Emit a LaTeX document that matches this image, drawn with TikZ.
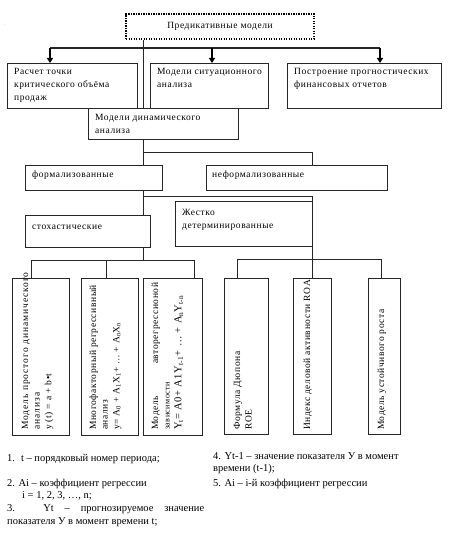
\documentclass[tikz,border=0pt]{standalone}
\usepackage{fontspec}
\setmainfont{Liberation Serif}
\newfontfamily\boxfont[LetterSpace=6]{Liberation Serif}
\newfontfamily\boxfontw[LetterSpace=10]{Liberation Serif}
\usetikzlibrary{arrows.meta}
\newcommand{\sbs}[1]{\textsubscript{#1}}
\newcommand{\lns}[1]{\begin{tabular}[t]{@{}l@{}}#1\end{tabular}}
\tikzset{
  frame/.style={draw=black!85, line width=0.9pt, inner sep=0pt, anchor=north west},
  topbox/.style={draw=black, line width=2pt, dash pattern=on 1.4pt off 1.1pt, inner sep=0pt, anchor=north west, font=\boxfont\fontsize{9.5}{12}\selectfont},
  btext/.style={anchor=base west, inner sep=0pt, font=\boxfont\fontsize{9.5}{13}\selectfont},
  vtext/.style={rotate=90, anchor=base west, inner sep=0pt, font=\boxfont\fontsize{9.5}{11.7}\selectfont},
  conn/.style={draw=black!85, line width=0.9pt},
  arr/.style={draw=black, line width=1.7pt, -{Triangle[length=5pt,width=6pt]}},
  note/.style={anchor=base west, inner sep=0pt, font=\fontsize{10.5}{12}\selectfont},
}
\begin{document}
\begin{tikzpicture}[x=1pt,y=-1pt]
\useasboundingbox[fill=white] (0,0) rectangle (448,540);
\node[font=\tiny, text=black!35] (dot) at (5,25) {.};
% boxes
\node[topbox, minimum width=188pt, minimum height=25pt] (tp) at (125,13) {Предикативные модели};
\node[frame, minimum width=130pt, minimum height=45pt] (r1) at (7,63) {};
\node[frame, minimum width=118pt, minimum height=45pt] (r2) at (150,63) {};
\node[frame, minimum width=154pt, minimum height=45pt] (r3) at (287,63) {};
\node[frame, fill=white, minimum width=150pt, minimum height=31pt] (dyn) at (88,108) {};
\node[frame, minimum width=137pt, minimum height=25pt] (frm) at (25,165) {};
\node[frame, minimum width=181pt, minimum height=25pt] (inf) at (206,165) {};
\node[frame, minimum width=125pt, minimum height=32pt] (sto) at (25,215) {};
\node[frame, minimum width=137pt, minimum height=45pt] (det) at (175,201) {};
\node[frame, minimum width=57pt, minimum height=157pt] (va) at (12,278) {};
\node[frame, minimum width=57pt, minimum height=157pt] (vb) at (81,278) {};
\node[frame, minimum width=59pt, minimum height=157pt] (vc) at (143,278) {};
\node[frame, minimum width=44pt, minimum height=156pt] (vd) at (224,278) {};
\node[frame, minimum width=38pt, minimum height=156pt] (ve) at (293,278) {};
\node[frame, minimum width=32pt, minimum height=156pt] (vf) at (368,278) {};
% texts
\node[btext] (t1) at (14,75) {\lns{Расчет точки\\критического объёма\\продаж}};
\node[btext] (t2) at (157,75) {\lns{Модели ситуационного\\анализа}};
\node[btext] (t3) at (294,75) {\lns{Построение прогностических\\финансовых отчетов}};
\node[btext] (tdyn) at (95,121) {\lns{Модели динамического\\анализа}};
\node[btext] (tfrm) at (32,178) {формализованные};
\node[btext] (tinf) at (212,178) {неформализованные};
\node[btext] (tsto) at (32,229) {стохастические};
\node[btext] (tdet) at (182,215) {\lns{Жестко\\детерминированные}};
\node[vtext] (ta) at (28,430) {\lns{{\boxfontw Модель простого динамического}\\{\boxfontw анализа}\\y (t) = a + b•t}};
\node[vtext] (tb) at (96,430) {\lns{Многофакторный регрессивный\\анализ\\y= A\sbs{0} + A\sbs{1}X\sbs{1}+ … + A\sbs{n}X\sbs{n}}};
\node[vtext] (tc) at (158,430) {\lns{\makebox[147pt][s]{Модель авторегрессионой}\\{\fontsize{8}{10}\selectfont зависимости}\\{\fontsize{10.5}{12}\selectfont Y\sbs{t}= A0+ A1Y\sbs{t-1}+ … + A\sbs{n}Y\sbs{t-n}}}};
\node[vtext] (td) at (240,430) {\lns{Формула Дюпона\\ROE}};
\node[vtext] (te) at (310,430) {Индекс деловой активности ROA};
\node[vtext] (tf) at (384,430) {Модель устойчивого роста};
% connectors
\coordinate (spine) at (143,0);
\coordinate (k) at (312,0);
\draw[conn] (tp.south -| spine) -- (dyn.north -| spine);
\coordinate (busL) at (50,48);
\coordinate (busM) at (212,48);
\coordinate (busR) at (380,48);
\draw[conn, line width=1.1pt] (busL) -- (busR);
\draw[arr] (busL) -- (r1.north -| busL);
\draw[arr] (busM) -- (r2.north -| busM);
\draw[arr] (busR) -- (r3.north -| busR);
\coordinate (j1) at (143,152);
\draw[conn] (dyn.south -| spine) -- (frm.north -| spine);
\draw[conn] (j1) -| (inf.north -| k);
\coordinate (j2) at (143,196);
\draw[conn] (frm.south -| spine) -- (sto.north -| spine);
\draw[conn] (j2) -| (det.north east);
\coordinate (a1) at (31,260);
\coordinate (a2) at (106,260);
\coordinate (a3) at (194,260);
\draw[conn] (sto.south -| spine) -- (spine |- a1);
\draw[conn] (va.north -| a1) -- (a1) -- (a3) -- (vc.north -| a3);
\draw[conn] (a2) -- (vb.north -| a2);
\coordinate (d1) at (237,259);
\coordinate (d3) at (381,259);
\draw[conn] (det.south east) -- (ve.north -| det.south east);
\draw[conn] (vd.north -| d1) -- (d1) -- (d3) -- (vf.north -| d3);
% notes
\node[note] (n1) at (7,461) {1.\hspace{6pt}t – порядковый номер периода;};
\node[note] (n2) at (7,486) {2. Ai – коэффициент регрессии};
\node[note] (n2b) at (22,498) {i = 1, 2, 3, …, n;};
\node[note] (n3) at (7,511) {\makebox[197pt][s]{3. Yt – прогнозируемое значение}};
\node[note] (n3b) at (7,524) {показателя У в момент времени t;};
\node[note] (n4) at (213,459) {4. Yt-1 – значение показателя У в момент};
\node[note] (n4b) at (213,471) {времени (t-1);};
\node[note] (n5) at (213,486) {5. Ai – i-й коэффициент регрессии};
\end{tikzpicture}
\end{document}
